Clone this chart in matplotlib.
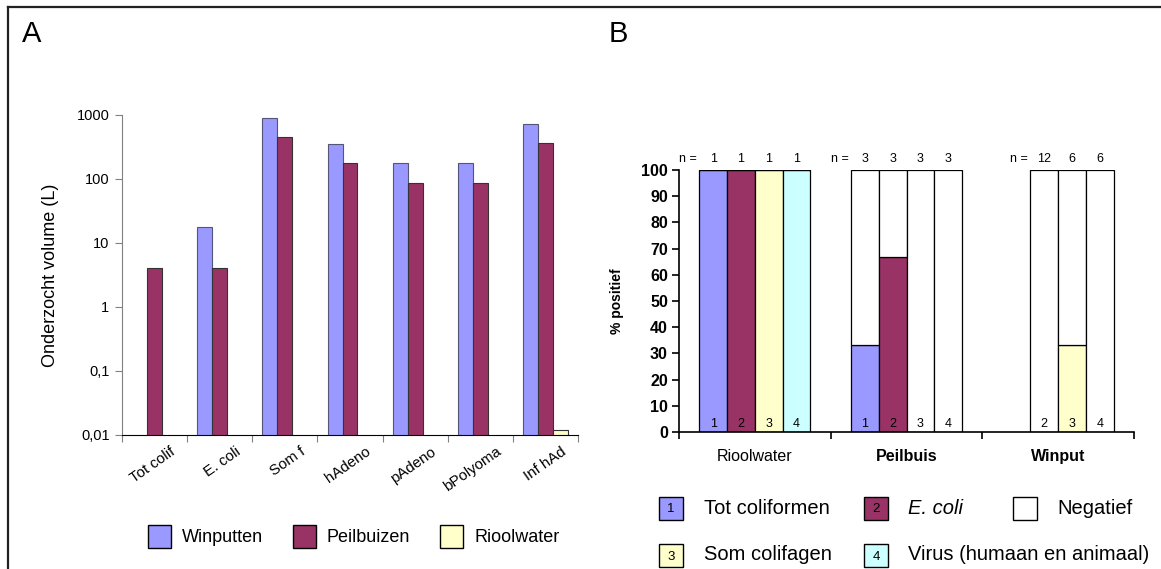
import numpy as np
import matplotlib
matplotlib.use("Agg")
import matplotlib.pyplot as plt
from matplotlib.patches import Rectangle
from matplotlib.lines import Line2D
from matplotlib.transforms import ScaledTranslation

plt.rcParams['font.family'] = ['Liberation Sans', 'DejaVu Sans']

# ---- panel A data ----
categories_a = ["Tot colif", "E. coli", "Som f", "hAdeno", "pAdeno", "bPolyoma", "Inf hAd"]
winputten = [np.nan, 18, 900, 350, 180, 180, 730]
peilbuizen = [4, 4, 460, 175, 87, 87, 360]
rioolwater = [np.nan, np.nan, np.nan, np.nan, np.nan, np.nan, 0.012]
yticks_a = [0.01, 0.1, 1, 10, 100, 1000]
yticklabels_a = ["0,01", "0,1", "1", "10", "100", "1000"]
series_a = ["Winputten", "Peilbuizen", "Rioolwater"]

# ---- panel B data ----
groups_b = ["Rioolwater", "Peilbuis", "Winput"]
# % positive per parameter (1 Tot coliformen, 2 E. coli, 3 Som colifagen, 4 Virus); None = not measured
pos_riool = [100, 100, 100, 100]
pos_peil = [33.3, 66.7, 0, 0]
pos_winput = [None, 0, 33.3, 0]
n_riool = [1, 1, 1, 1]
n_peil = [3, 3, 3, 3]
n_winput = [None, 12, 6, 6]
legend_b = ["Tot coliformen", "E. coli", "Negatief", "Som colifagen", "Virus (humaan en animaal)"]

BLUE = "#9999FF"
PURPLE = "#993366"
YELLOW = "#FFFFCC"
CYAN = "#CCFFFF"
param_colors = [BLUE, PURPLE, YELLOW, CYAN]

W, H = 1161, 569
fig = plt.figure(figsize=(W / 100, H / 100), dpi=100)

def fx(x):
    return x / W

def fy(y):
    return 1 - y / H

# figure frame (top and left visible)
fig.add_artist(Line2D([fx(8), 1], [fy(7), fy(7)], color="#222222", lw=1.6))
fig.add_artist(Line2D([fx(8), fx(8)], [fy(7), 0], color="#222222", lw=1.6))

fig.text(fx(22), fy(34), "A", fontsize=21, va="center", ha="left")
fig.text(fx(609), fy(34), "B", fontsize=21, va="center", ha="left")

# ================= panel A =================
axA = fig.add_axes([fx(122), fy(435), fx(578) - fx(122), fy(115) - fy(435)])
x = np.arange(len(categories_a)) + 0.5
bw = 0.23
axA.bar(x - bw, winputten, bw, color=BLUE, edgecolor="#555577", lw=0.8)
axA.bar(x, peilbuizen, bw, color=PURPLE, edgecolor="#333333", lw=0.8)
axA.bar(x + bw, rioolwater, bw, color=YELLOW, edgecolor="#333333", lw=0.8)
axA.set_yscale("log")
axA.set_ylim(0.01, 1000)
axA.set_xlim(0, len(categories_a))
axA.set_yticks(yticks_a)
axA.set_yticklabels(yticklabels_a, fontsize=10.5)
axA.yaxis.set_minor_locator(matplotlib.ticker.NullLocator())
axA.set_xticks(np.arange(len(categories_a) + 1))
axA.set_xticklabels([])
axA.set_xticks(x, minor=True)
axA.set_xticklabels(categories_a, minor=True, rotation=35, ha="right",
                    rotation_mode="anchor", fontsize=10.8)
axA.tick_params(axis="x", which="minor", length=0, pad=7)
axA.tick_params(axis="x", which="major", length=5, color="#808080")
axA.tick_params(axis="y", length=5, color="#808080", pad=4)
for lab in axA.get_xticklabels(minor=True):
    lab.set_transform(lab.get_transform() + ScaledTranslation(15 / 100, 0, fig.dpi_scale_trans))
for s in ["top", "right"]:
    axA.spines[s].set_visible(False)
axA.spines["left"].set_color("#808080")
axA.spines["bottom"].set_color("black")
axA.set_ylabel("Onderzocht volume (L)", fontsize=13, labelpad=13)

# legend A
leg_a_cols = [BLUE, PURPLE, YELLOW]
leg_a_x = [148, 293, 440]
for name, col, lx in zip(series_a, leg_a_cols, leg_a_x):
    fig.add_artist(Rectangle((fx(lx), fy(548)), fx(23), 23 / H, facecolor=col,
                             edgecolor="black", lw=1, transform=fig.transFigure))
    fig.text(fx(lx + 34), fy(537), name, fontsize=13, va="center", ha="left")

# ================= panel B =================
axB = fig.add_axes([fx(679), fy(432), fx(1134) - fx(679), fy(170) - fy(432)])
bwB = 0.183
pos_all = [pos_riool, pos_peil, pos_winput]
n_all = [n_riool, n_peil, n_winput]
for g, (pos, ns) in enumerate(zip(pos_all, n_all)):
    first = None
    for k in range(4):
        if pos[k] is None:
            continue
        xc = g + 0.5 + (k - 1.5) * bwB
        if first is None:
            first = xc
        axB.bar(xc, pos[k], bwB, color=param_colors[k], edgecolor="black", lw=0.9)
        axB.bar(xc, 100 - pos[k], bwB, bottom=pos[k], color="white", edgecolor="black", lw=0.9)
        axB.text(xc, 3.8, str(k + 1), fontsize=9, ha="center", va="center_baseline")
        axB.text(xc, 104.3, str(ns[k]), fontsize=9, ha="center", va="center", clip_on=False)
    axB.text(first - 0.165, 104.3, "n =", fontsize=9, ha="center", va="center", clip_on=False)

axB.set_xlim(0, 3)
axB.set_ylim(0, 100)
axB.set_yticks(np.arange(0, 101, 10))
axB.set_yticklabels([str(v) for v in range(0, 101, 10)], fontsize=11.5, fontweight="bold")
axB.set_xticks(np.arange(4))
axB.set_xticklabels([])
axB.set_xticks(np.arange(3) + 0.5, minor=True)
axB.set_xticklabels(groups_b, minor=True, fontsize=11.5)
for lab, wt in zip(axB.get_xticklabels(minor=True), ["normal", "bold", "bold"]):
    lab.set_fontweight(wt)
axB.tick_params(axis="x", which="minor", length=0, pad=12)
axB.tick_params(axis="x", which="major", length=5, width=1.2)
axB.tick_params(axis="y", length=5, width=1.2, pad=3)
for s in ["top", "right"]:
    axB.spines[s].set_visible(False)
axB.spines["left"].set_linewidth(1.2)
axB.spines["bottom"].set_linewidth(1.2)
axB.set_ylabel("% positief", fontsize=10, fontweight="bold", labelpad=12)

# legend B
leg_b_items = [
    (659, 508, BLUE, "1", legend_b[0], "normal"),
    (864, 508, PURPLE, "2", legend_b[1], "italic"),
    (1013, 508, "white", "", legend_b[2], "normal"),
    (659, 555, YELLOW, "3", legend_b[3], "normal"),
    (864, 555, CYAN, "4", legend_b[4], "normal"),
]
for lx, ly, col, num, name, style in leg_b_items:
    fig.add_artist(Rectangle((fx(lx), fy(ly + 11.5)), fx(24), 23 / H, facecolor=col,
                             edgecolor="black", lw=1, transform=fig.transFigure))
    if num:
        fig.text(fx(lx + 12), fy(ly), num, fontsize=9.5, ha="center", va="center_baseline")
    fig.text(fx(lx + 44.5), fy(ly), name, fontsize=14.5, ha="left", va="center", style=style)

fig.savefig("out.png", dpi=100)
